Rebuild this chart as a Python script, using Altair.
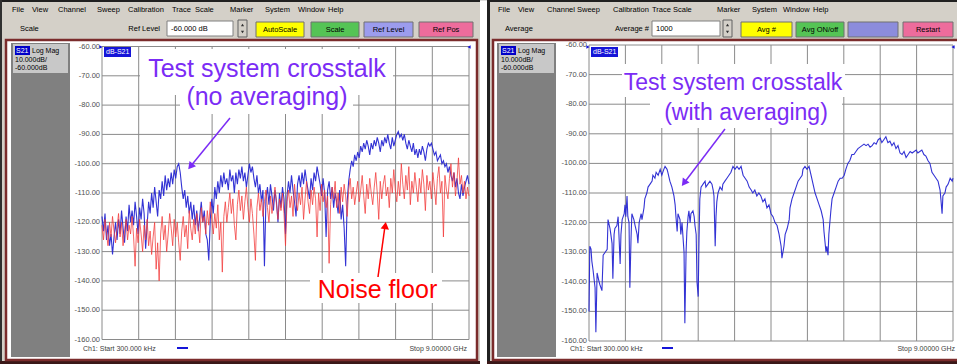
import altair as alt
import numpy as np
import pandas as pd

# ---------------- data ----------------
DB_TICKS = [-60, -70, -80, -90, -100, -110, -120, -130, -140, -150, -160]
DB_LABELS = ["-60.00", "-70.00", "-80.00", "-90.00", "-100.00", "-110.00",
             "-120.00", "-130.00", "-140.00", "-150.00", "-160.00"]
DIV_GHZ = [0.0, 0.9, 1.8, 2.7, 3.6, 4.5, 5.4, 6.3, 7.2, 8.1, 9.0]

# left panel: crosstalk without averaging (blue), swept 0..9 GHz
crosstalk_raw_db = [
    -118, -123, -117, -126, -121, -128, -124, -131, -125, -120,
    -126, -119, -124, -116, -122, -127, -118, -123, -114, -120,
    -116, -121, -113, -118, -124, -115, -119, -112, -117, -129,
    -121, -113, -117, -110, -115, -108, -113, -118, -109, -112,
    -106, -111, -104, -109, -105, -108, -103, -107, -102, -105,
    -101, -100, -103, -108, -112, -109, -115, -111, -117, -113,
    -119, -114, -121, -116, -123, -118, -113, -120, -116, -124,
    -126, -133, -119, -112, -117, -108, -112, -106, -110, -104,
    -108, -103, -107, -105, -109, -102, -106, -104, -110, -103,
    -107, -102, -105, -101, -106, -103, -108, -104, -100, -103,
    -101, -105, -108, -104, -110, -107, -113, -109, -135, -112,
    -108, -114, -107, -111, -116, -109, -113, -120, -110, -115,
    -108, -112, -124, -111, -106, -110, -104, -109, -113, -118,
    -107, -104, -108, -103, -107, -102, -106, -109, -112, -105,
    -109, -103, -106, -101, -104, -107, -111, -105, -110, -125,
    -109, -106, -112, -108, -115, -110, -113, -117, -109, -119,
    -114, -122, -135, -113, -106, -102, -99, -101, -97, -99,
    -96, -98, -94, -96, -93, -95, -92, -94, -97, -93,
    -95, -92, -94, -91, -93, -96, -92, -94, -91, -93,
    -90, -93, -95, -91, -94, -92, -90, -89, -91, -90,
    -92, -90, -93, -95, -92, -94, -96, -93, -97, -95,
    -98, -95, -97, -94, -96, -99, -95, -93, -94, -93,
    -95, -97, -96, -99, -98, -97, -100, -99, -101, -100,
    -103, -101, -104, -106, -103, -108, -105, -110, -112, -107,
    -111, -108, -106, -104, -107,
]

# left panel: noise floor (red)
noise_floor_db = [
    -121, -126, -119, -124, -128, -120, -125, -118, -123, -127,
    -122, -117, -125, -120, -128, -123, -119, -126, -121, -124,
    -118, -125, -135, -122, -127, -119, -124, -130, -121, -126,
    -119, -128, -123, -131, -125, -120, -136, -127, -140, -124,
    -118, -126, -121, -130, -124, -117, -122, -128, -119, -125,
    -120, -127, -133, -123, -118, -125, -121, -129, -116, -122,
    -126, -119, -124, -117, -121, -127, -115, -120, -118, -124,
    -116, -121, -113, -119, -124, -117, -122, -114, -126, -120,
    -137, -118, -113, -120, -115, -110, -117, -112, -121, -126,
    -114, -109, -116, -111, -119, -113, -108, -115, -120, -112,
    -117, -124, -133, -115, -110, -116, -112, -118, -113, -109,
    -115, -120, -111, -117, -113, -108, -114, -119, -112, -116,
    -110, -117, -128, -113, -109, -115, -111, -118, -107, -113,
    -116, -110, -114, -108, -119, -112, -106, -113, -117, -109,
    -114, -108, -112, -125, -110, -116, -107, -113, -109, -115,
    -111, -134, -114, -108, -112, -106, -115, -110, -117, -108,
    -113, -107, -111, -118, -109, -105, -112, -108, -114, -110,
    -106, -113, -109, -104, -111, -117, -107, -112, -105, -110,
    -114, -108, -103, -110, -119, -106, -112, -107, -104, -111,
    -108, -115, -105, -110, -102, -109, -113, -106, -111, -100,
    -107, -112, -104, -109, -101, -114, -106, -110, -103, -108,
    -113, -105, -110, -102, -107, -116, -104, -109, -106, -112,
    -103, -108, -114, -105, -101, -110, -106, -125, -104, -109,
    -112, -105, -100, -108, -103, -111, -106, -98, -107, -104,
    -110, -106, -112, -108, -111,
]

# right panel: crosstalk with averaging (blue)
avg_freq_ghz = [
    0.00, 0.02, 0.05, 0.07, 0.10, 0.15, 0.17, 0.20, 0.25, 0.27, 0.32, 0.35, 0.40, 0.45, 0.47,
    0.52, 0.54, 0.57, 0.59, 0.62, 0.64, 0.69, 0.72, 0.74, 0.77, 0.79, 0.82, 0.87, 0.89, 0.91,
    0.94, 0.96, 0.99, 1.01, 1.04, 1.06, 1.11, 1.14, 1.19, 1.21, 1.24, 1.29, 1.31, 1.36, 1.38,
    1.43, 1.46, 1.51, 1.56, 1.58, 1.63, 1.66, 1.71, 1.76, 1.80, 1.85, 1.88, 1.93, 1.95, 2.00,
    2.05, 2.10, 2.13, 2.15, 2.18, 2.20, 2.25, 2.27, 2.30, 2.35, 2.37, 2.40, 2.42, 2.45, 2.47,
    2.50, 2.52, 2.57, 2.60, 2.62, 2.65, 2.67, 2.70, 2.72, 2.74, 2.77, 2.82, 2.87, 2.89, 2.94,
    2.99, 3.04, 3.07, 3.09, 3.12, 3.14, 3.16, 3.19, 3.24, 3.29, 3.31, 3.36, 3.41, 3.46, 3.51,
    3.56, 3.61, 3.66, 3.71, 3.76, 3.81, 3.86, 3.91, 3.96, 4.01, 4.05, 4.10, 4.15, 4.20, 4.25,
    4.30, 4.35, 4.40, 4.45, 4.50, 4.55, 4.60, 4.65, 4.70, 4.75, 4.77, 4.82, 4.85, 4.90, 4.95,
    4.97, 5.02, 5.07, 5.12, 5.17, 5.22, 5.27, 5.29, 5.34, 5.39, 5.44, 5.49, 5.54, 5.59, 5.64,
    5.69, 5.74, 5.79, 5.81, 5.86, 5.88, 5.91, 5.93, 5.98, 6.01, 6.06, 6.11, 6.16, 6.21, 6.26,
    6.31, 6.35, 6.40, 6.45, 6.50, 6.55, 6.60, 6.65, 6.70, 6.75, 6.80, 6.85, 6.90, 6.95, 7.00,
    7.05, 7.10, 7.15, 7.20, 7.24, 7.29, 7.34, 7.39, 7.44, 7.49, 7.54, 7.59, 7.64, 7.69, 7.74,
    7.79, 7.84, 7.89, 7.94, 7.99, 8.04, 8.09, 8.13, 8.18, 8.23, 8.28, 8.33, 8.38, 8.43, 8.48,
    8.53, 8.58, 8.63, 8.68, 8.70, 8.73, 8.75, 8.80, 8.83, 8.88, 8.93, 8.98, 9.00,
]
avg_crosstalk_db = [
    -150, -128, -129, -133, -136, -142, -157, -137, -140, -141, -143, -131, -130, -129, -119,
    -122, -124, -127, -139, -124, -122, -121, -118, -124, -134, -124, -119, -117, -114, -118,
    -111, -118, -120, -142, -125, -117, -119, -121, -124, -127, -120, -117, -119, -115, -112,
    -110, -108, -107, -106, -104, -105, -103, -104, -102, -104, -102, -101, -102, -103, -106,
    -108, -111, -114, -118, -123, -117, -119, -124, -120, -130, -154, -130, -123, -118, -116,
    -120, -117, -116, -118, -121, -124, -140, -145, -126, -112, -108, -107, -106, -108, -107,
    -106, -107, -109, -111, -128, -118, -113, -110, -108, -109, -107, -106, -105, -104, -103,
    -101, -102, -101, -102, -101, -104, -105, -106, -108, -109, -110, -109, -111, -110, -111,
    -113, -112, -115, -114, -117, -118, -120, -121, -124, -128, -132, -128, -124, -122, -119,
    -115, -112, -110, -108, -106, -105, -104, -102, -101, -102, -101, -104, -107, -110, -112,
    -114, -116, -119, -123, -130, -128, -131, -124, -116, -112, -110, -108, -106, -105, -105,
    -104, -102, -100, -99, -97, -97, -96, -95, -94.5, -94, -93.5, -94, -93.5, -94.5, -94,
    -93, -93.5, -92, -91.5, -93, -92, -91, -93, -92.5, -94, -93, -95, -94, -96.5, -97,
    -96, -98, -97, -96, -96.5, -96, -95.5, -96.5, -96, -95.5, -97, -97.5, -99, -100, -103,
    -104, -105, -106, -109, -112, -117, -111, -110, -108, -107, -105, -106, -105,
]

MENU = ["File", "View", "Channel", "Sweep", "Calibration", "Trace", "Scale",
        "Marker", "System", "Window", "Help"]

# ---------------- layout / style ----------------
UI = "Liberation Sans"
BG = "#D4D0C8"
MAROON = "#7B2C2C"
GRID = "#8A8A8A"
PURPLE = "#7B2CF5"
BLUE = "#2828D2"
RED = "#F23C3C"

LEFT = dict(x0=102, x1=469, y0=339.5, y1=46.5, lab=100)
RIGHT = dict(x0=589, x1=953, y0=341, y1=45, lab=587)
LEFT_MENU_X = [12, 32, 58, 97, 128, 172, 195, 230, 265, 298, 328]
RIGHT_MENU_X = [498, 518, 547, 577, 613, 652, 673, 717, 752, 783, 813]

dummy = pd.DataFrame({"k": [0]})


def rect(x1, y1, x2, y2, fill, stroke="", sw=1.0):
    kw = dict(fill=fill)
    if stroke:
        kw.update(stroke=stroke, strokeWidth=sw)
    else:
        kw.update(strokeWidth=0)
    return alt.Chart(dummy).mark_rect(**kw).encode(
        x=alt.value(x1), x2=alt.value(x2), y=alt.value(y1), y2=alt.value(y2))


def txt(x, y, s, size=7.5, color="#000000", align="left", baseline="middle",
        font=UI, weight="normal"):
    return alt.Chart(dummy).mark_text(
        text=s, fontSize=size, color=color, align=align, baseline=baseline,
        font=font, fontWeight=weight).encode(x=alt.value(x), y=alt.value(y))


def seg(x1, y1, x2, y2, color, sw=1.5):
    return alt.Chart(dummy).mark_rule(color=color, strokeWidth=sw).encode(
        x=alt.value(x1), x2=alt.value(x2), y=alt.value(y1), y2=alt.value(y2))


def tri(x, y, angle, color, size=70):
    return alt.Chart(dummy).mark_point(
        shape="triangle-up", filled=True, angle=angle, size=size, color=color,
        opacity=1, strokeWidth=0).encode(x=alt.value(x), y=alt.value(y))


def scales(P):
    xs = alt.Scale(domain=[0, 9], range=[P["x0"], P["x1"]], nice=False, zero=False)
    ys = alt.Scale(domain=[-160, -60], range=[P["y0"], P["y1"]], nice=False, zero=False)
    return xs, ys


def grid_layers(P):
    xs, ys = scales(P)
    h = pd.DataFrame({"db": DB_TICKS, "f0": 0.0, "f1": 9.0})
    v = pd.DataFrame({"f": DIV_GHZ, "d0": -160.0, "d1": -60.0})
    lab = pd.DataFrame({"db": DB_TICKS, "lab": DB_LABELS})
    hg = alt.Chart(h).mark_rule(color=GRID, strokeWidth=1).encode(
        x=alt.X("f0:Q", scale=xs, axis=None), x2="f1:Q",
        y=alt.Y("db:Q", scale=ys, axis=None))
    vg = alt.Chart(v).mark_rule(color=GRID, strokeWidth=1).encode(
        x=alt.X("f:Q", scale=xs, axis=None),
        y=alt.Y("d0:Q", scale=ys, axis=None), y2="d1:Q")
    tl = alt.Chart(lab).mark_text(align="right", baseline="middle", fontSize=7.5,
                                  font=UI, color="#505050").encode(
        x=alt.value(P["lab"]), y=alt.Y("db:Q", scale=ys, axis=None), text="lab:N")
    return [hg, vg, tl]


def trace(P, freqs, dbs, color, width=1.0, opacity=1.0):
    xs, ys = scales(P)
    df = pd.DataFrame({"f": freqs, "db": dbs})
    return alt.Chart(df).mark_line(color=color, strokeWidth=width, opacity=opacity).encode(
        x=alt.X("f:Q", scale=xs, axis=None), y=alt.Y("db:Q", scale=ys, axis=None),
        order="f:Q")


layers = []

# ----- window chrome -----
layers += [rect(0, 0, 480, 364, BG), rect(487, 0, 957, 364, BG),
           rect(0, 0, 480, 2, "#202020"), rect(487, 0, 957, 2, "#202020"),
           rect(0, 0, 2, 364, "#303030"), rect(487, 0, 490, 364, "#202020"),
           rect(0, 361, 480, 364, "#3A1818"), rect(487, 361, 957, 364, "#3A1818")]

for w, x in zip(MENU, LEFT_MENU_X):
    layers.append(txt(x, 10, w))
for w, x in zip(MENU, RIGHT_MENU_X):
    layers.append(txt(x, 10, w))

# toolbar left
layers += [txt(20, 29, "Scale"), txt(160, 29, "Ref Level", align="right"),
           rect(167, 21, 233, 36, "white", "#808080"), txt(171, 28.5, "-60.000 dB"),
           rect(238, 20, 247, 37, BG, "#606060"),
           tri(242.5, 25, 0, "#303030", 10), tri(242.5, 32, 180, "#303030", 10)]
for lab, x1, x2, col in [("AutoScale", 256, 304, "#FFFF00"), ("Scale", 311, 359, "#55C455"),
                         ("Ref Level", 364, 413, "#9C9CEE"), ("Ref Pos", 419, 473, "#EE6C9C")]:
    layers += [rect(x1, 22, x2, 37, col, "#707070"), txt((x1 + x2) / 2, 29.5, lab, align="center")]

# toolbar right
layers += [txt(505, 29, "Average"), txt(649, 29, "Average #", align="right"),
           rect(652, 21, 720, 36, "white", "#808080"), txt(656, 28.5, "1000"),
           rect(723, 20, 732, 37, BG, "#606060"),
           tri(727.5, 25, 0, "#303030", 10), tri(727.5, 32, 180, "#303030", 10)]
for lab, x1, x2, col in [("Avg #", 741, 792, "#FFFF00"), ("Avg ON/off", 796, 844, "#55C455"),
                         ("", 848, 898, "#8C8CDC"), ("Restart", 903, 953, "#EE6C9C")]:
    layers.append(rect(x1, 22, x2, 37, col, "#707070"))
    if lab:
        layers.append(txt((x1 + x2) / 2, 29.5, lab, align="center"))

# display frames, side panels and info boxes
for fx1, fx2, gx1, gx2 in [(6, 477, 11, 70), (493, 961, 497, 556)]:
    layers += [rect(fx1, 40, fx2, 360, "white", MAROON, 2.5),
               rect(gx1, 43, gx2, 357, "#808080"),
               rect(gx1 + 2, 44, gx2 - 2, 73, "#C8C8C8"),
               rect(gx1 + 4, 46, gx1 + 19, 55, "#0000C8"),
               txt(gx1 + 5, 50.5, "S21", 7, "white"),
               txt(gx1 + 21, 50.5, "Log Mag", 7),
               txt(gx1 + 4, 60, "10.000dB/", 7),
               txt(gx1 + 4, 68, "-60.000dB", 7)]

# ----- plots -----
layers += grid_layers(LEFT) + grid_layers(RIGHT)
n = len(crosstalk_raw_db)
sweep = np.linspace(0.0, 9.0, n)
layers.append(trace(LEFT, sweep, crosstalk_raw_db, BLUE, 1.1, 0.95))
layers.append(trace(LEFT, np.linspace(0.0, 9.0, len(noise_floor_db)), noise_floor_db, RED, 1.0, 0.78))
layers.append(trace(RIGHT, avg_freq_ghz, avg_crosstalk_db, BLUE, 1.1, 0.95))

# trace labels and ref markers
for P, bx in [(LEFT, 104), (RIGHT, 591)]:
    layers += [rect(bx, 47, bx + 27, 57, "#1515D8"), txt(bx + 2, 52, "dB-S21", 7, "white"),
               tri(P["x0"] - 1, 47, 90, "#1515D8", 14), tri(P["x1"], 47, 270, "#1515D8", 14)]

# status lines
layers += [txt(83, 349, "Ch1:  Start  300.000 kHz", 7, "#404040"),
           seg(177, 348, 188, 348, "#1515D8", 2),
           txt(467, 349, "Stop  9.00000 GHz", 7, "#404040", align="right"),
           txt(570, 349, "Ch1:  Start  300.000 kHz", 7, "#404040"),
           seg(662, 348, 673, 348, "#1515D8", 2),
           txt(955, 349, "Stop  9.00000 GHz", 7, "#404040", align="right")]

# ----- annotations -----
AF = "Liberation Sans"
layers += [rect(140, 49, 393, 95, "white"), rect(180, 95, 353, 114, "white"),
           txt(267, 77, "Test system crosstalk", 25, PURPLE, "center", "alphabetic", AF),
           txt(267, 105, "(no averaging)", 25, PURPLE, "center", "alphabetic", AF),
           seg(230, 118, 190, 167, PURPLE, 1.5), tri(190.5, 166.5, 219, PURPLE, 70)]
layers += [rect(622, 64, 845, 97, "white"), rect(650, 97, 842, 128, "white"),
           txt(733, 90, "Test system crosstalk", 23, PURPLE, "center", "alphabetic", AF),
           txt(746, 120, "(with averaging)", 23, PURPLE, "center", "alphabetic", AF),
           seg(725, 129, 684, 183, PURPLE, 1.5), tri(684, 183, 217, PURPLE, 70)]
layers += [rect(310, 273, 442, 303, "white"),
           txt(377.5, 298, "Noise floor", 25, "#FF0000", "center", "alphabetic", AF),
           seg(378, 277, 385, 226, "#FF0000", 1.5), tri(385.3, 225.6, 8, "#FF0000", 70)]

chart = alt.layer(*layers).properties(
    width=957, height=364, padding=0,
    autosize=alt.AutoSizeParams(type="none"),
).resolve_scale(x="independent", y="independent").configure_view(stroke=None).configure(
    background="white")

chart.save("out.html", embed_options={"renderer": "svg", "actions": False})
